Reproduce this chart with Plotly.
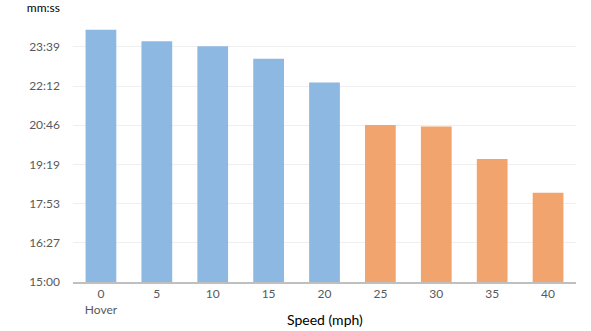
import plotly.graph_objects as go

# Hover time per forward speed
speeds = ["0<br>Hover", "5", "10", "15", "20", "25", "30", "35", "40"]
flight_times = ["24:16", "23:51", "23:40", "23:12", "22:20", "20:46", "20:43", "19:31", "18:17"]
bar_colors = ["#8DB8E2"] * 5 + ["#F1A46D"] * 4

# Y axis ticks (every 86.4 s, starting at 15:00)
tick_labels = ["15:00", "16:27", "17:53", "19:19", "20:46", "22:12", "23:39", "mm:ss"]


def to_seconds(t):
    m, s = t.split(":")
    return int(m) * 60 + int(s)


seconds = [to_seconds(t) for t in flight_times]
y0 = 900
step = 86.4
tick_vals = [y0 + i * step for i in range(len(tick_labels))]

fig = go.Figure(
    go.Bar(
        x=speeds,
        y=seconds,
        marker=dict(color=bar_colors, line=dict(width=0)),
        hovertext=flight_times,
    )
)

fig.update_layout(
    width=591,
    height=331,
    margin=dict(l=73, r=15, t=7, b=49),
    plot_bgcolor="white",
    paper_bgcolor="white",
    bargap=0.45,
    showlegend=False,
    font=dict(family="Lato, 'Open Sans', sans-serif", size=12, color="#595959"),
    xaxis=dict(
        automargin=False,
        showline=True,
        linecolor="#BFBFBF",
        linewidth=2,
        ticks="",
        tickfont=dict(size=12, color="#595959"),
    ),
    yaxis=dict(
        automargin=False,
        range=[y0, tick_vals[-1] + 1.5],
        tickvals=tick_vals,
        ticktext=tick_labels[:-1] + ["<span style='color:#000'>mm:ss</span>"],
        ticklabeloverflow="allow",
        showgrid=True,
        gridcolor="#EFEFEF",
        gridwidth=1,
        zeroline=False,
        ticks="",
        ticklabelstandoff=12,
        tickfont=dict(size=12, color="#595959"),
    ),
    annotations=[
        dict(
            text="Speed (mph)",
            xref="paper",
            yref="paper",
            x=0.5,
            y=-0.137,
            xanchor="center",
            yanchor="middle",
            showarrow=False,
            font=dict(size=14, color="#000000"),
        )
    ],
)

fig.write_html("out.html")
